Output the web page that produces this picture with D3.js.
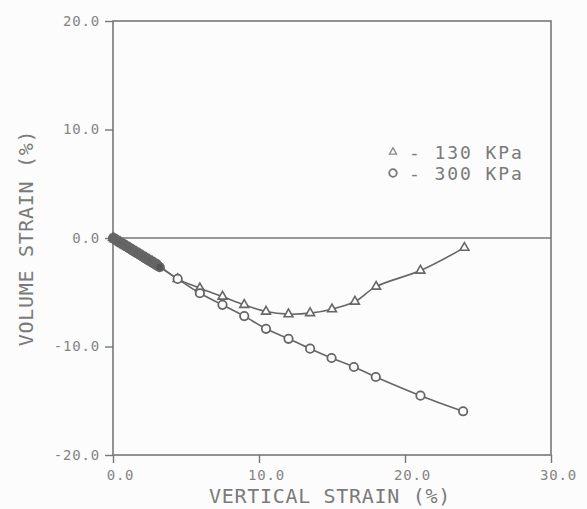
<!DOCTYPE html>
<html>
<head>
<meta charset="utf-8">
<script src="https://cdn.jsdelivr.net/npm/d3@7"></script>
<style>
  body { margin: 0; background: #fcfcfc; }
  svg { display: block; }
  .axis text { font-family: "DejaVu Sans Mono", monospace; fill: #858585; }
  .big-label { font-family: "DejaVu Sans Mono", monospace; fill: #7a7a7a; font-size: 20px; letter-spacing: 0.7px; }
  .leg { font-size: 18px; letter-spacing: 1.9px; }
</style>
</head>
<body>
<svg id="chart"></svg>
<script>
// Vertical strain (%) / volume strain (%)
const strain130 = [0, 0.1, 0.2, 0.3, 0.4, 0.5, 0.6, 0.7, 0.8, 0.9, 1.0, 1.1, 1.2, 1.3, 1.4, 1.5, 1.6,
  1.7, 1.8, 1.9, 2.0, 2.1, 2.2, 2.3, 2.4, 2.5, 2.6, 2.7, 2.8, 2.9, 3.0, 3.1, 3.2,
  4.43, 5.95, 7.5, 8.99, 10.48, 12.02, 13.5, 15.0, 16.57, 18.02, 21.06, 24.07];
const volume130 = [0, -0.08, -0.16, -0.24, -0.32, -0.40, -0.49, -0.57, -0.65, -0.73, -0.81, -0.89, -0.97, -1.06, -1.14, -1.22, -1.30,
  -1.38, -1.46, -1.54, -1.63, -1.71, -1.79, -1.87, -1.95, -2.03, -2.11, -2.19, -2.27, -2.36, -2.44, -2.52, -2.6,
  -3.77, -4.63, -5.4, -6.16, -6.78, -7.02, -6.92, -6.56, -5.86, -4.48, -3.0, -0.89];

const strain300 = [0, 0.1, 0.2, 0.3, 0.4, 0.5, 0.6, 0.7, 0.8, 0.9, 1.0, 1.1, 1.2, 1.3, 1.4, 1.5, 1.6,
  1.7, 1.8, 1.9, 2.0, 2.1, 2.2, 2.3, 2.4, 2.5, 2.6, 2.7, 2.8, 2.9, 3.0, 3.1, 3.2,
  4.43, 5.95, 7.5, 8.99, 10.48, 12.02, 13.5, 14.97, 16.5, 18.0, 21.06, 23.98];
const volume300 = [0, -0.08, -0.17, -0.25, -0.34, -0.42, -0.5, -0.59, -0.67, -0.76, -0.84, -0.92, -1.01, -1.09, -1.18, -1.26, -1.34,
  -1.43, -1.51, -1.6, -1.68, -1.76, -1.85, -1.93, -2.02, -2.1, -2.18, -2.27, -2.35, -2.44, -2.52, -2.6, -2.68,
  -3.77, -5.09, -6.16, -7.2, -8.37, -9.29, -10.2, -11.06, -11.89, -12.81, -14.53, -15.97];

const xTicks = [0, 10, 20, 30];
const yTicks = [-20, -10, 0, 10, 20];
const legendLabels = ["- 130 KPa", "- 300 KPa"];

const width = 587, height = 509;
const margin = {top: 21, right: 36, bottom: 54, left: 113};

const svg = d3.select("#chart")
    .attr("width", width)
    .attr("height", height);

const x = d3.scaleLinear().domain([0, 30]).range([margin.left, width - margin.right]);
const y = d3.scaleLinear().domain([-20, 20]).range([height - margin.bottom, margin.top]);

const ink = "#666";

// frame
svg.append("rect")
    .attr("x", x(0)).attr("y", y(20))
    .attr("width", x(30) - x(0)).attr("height", y(-20) - y(20))
    .attr("fill", "none").attr("stroke", "#777").attr("stroke-width", 1.6);

// zero line
svg.append("line")
    .attr("x1", x(0)).attr("x2", x(30))
    .attr("y1", y(0)).attr("y2", y(0))
    .attr("stroke", "#777").attr("stroke-width", 1.6);

// axes (ticks only, frame drawn above)
const xAxis = d3.axisBottom(x).tickValues(xTicks).tickSize(8).tickPadding(7)
    .tickFormat(d3.format(".1f"));
const yAxis = d3.axisLeft(y).tickValues(yTicks).tickSize(8).tickPadding(5)
    .tickFormat(d => d3.format(".1f")(d).replace("−", "-"));

svg.append("g")
    .attr("class", "axis")
    .attr("transform", `translate(0,${y(-20)})`)
    .call(xAxis)
    .call(g => g.select(".domain").remove())
    .call(g => g.selectAll("line").attr("stroke", "#777").attr("stroke-width", 1.4))
    .call(g => g.selectAll("text").attr("font-size", 14).attr("dx", 7).attr("letter-spacing", 0.8));

svg.append("g")
    .attr("class", "axis")
    .attr("transform", `translate(${x(0)},0)`)
    .call(yAxis)
    .call(g => g.select(".domain").remove())
    .call(g => g.selectAll("line").attr("stroke", "#777").attr("stroke-width", 1.4))
    .call(g => g.selectAll("text").attr("font-size", 14).attr("letter-spacing", 0.8));

// axis titles
svg.append("text")
    .attr("class", "big-label")
    .attr("text-anchor", "middle")
    .attr("x", 330).attr("y", 503)
    .text("VERTICAL STRAIN (%)");

svg.append("text")
    .attr("class", "big-label")
    .attr("text-anchor", "middle")
    .attr("transform", "translate(33,238) rotate(-90)")
    .text("VOLUME STRAIN (%)");

// series
const line = d3.line()
    .x(d => x(d[0]))
    .y(d => y(d[1]))
    .curve(d3.curveCatmullRom.alpha(0.5));

const s130 = strain130.map((v, i) => [v, volume130[i]]);
const s300 = strain300.map((v, i) => [v, volume300[i]]);

[s130, s300].forEach(s => {
  svg.append("path")
      .datum(s)
      .attr("fill", "none")
      .attr("stroke", ink)
      .attr("stroke-width", 1.6)
      .attr("d", line);
});

const tri = d3.symbol().type(d3.symbolTriangle).size(34);

svg.append("g").selectAll("path")
    .data(s130)
    .join("path")
    .attr("transform", d => `translate(${x(d[0])},${y(d[1])})`)
    .attr("d", tri)
    .attr("fill", "#fcfcfc")
    .attr("stroke", ink)
    .attr("stroke-width", 1.6);

svg.append("g").selectAll("circle")
    .data(s300)
    .join("circle")
    .attr("cx", d => x(d[0]))
    .attr("cy", d => y(d[1]))
    .attr("r", 4.2)
    .attr("fill", d => d[0] <= 3.2 ? "#555" : "#fcfcfc")
    .attr("stroke", ink)
    .attr("stroke-width", 1.8);

// legend
const legend = svg.append("g").attr("transform", "translate(393,152)");
legend.append("path")
    .attr("d", d3.symbol().type(d3.symbolTriangle).size(22))
    .attr("fill", "none").attr("stroke", "#888").attr("stroke-width", 1.3);
legend.append("circle")
    .attr("cy", 21).attr("r", 3.8)
    .attr("fill", "none").attr("stroke", "#777").attr("stroke-width", 1.8);
legend.selectAll("text.leg")
    .data(legendLabels)
    .join("text")
    .attr("class", "big-label leg")
    .attr("x", 16)
    .attr("y", (d, i) => 7 + i * 21)
    .text(d => d);
</script>
</body>
</html>
